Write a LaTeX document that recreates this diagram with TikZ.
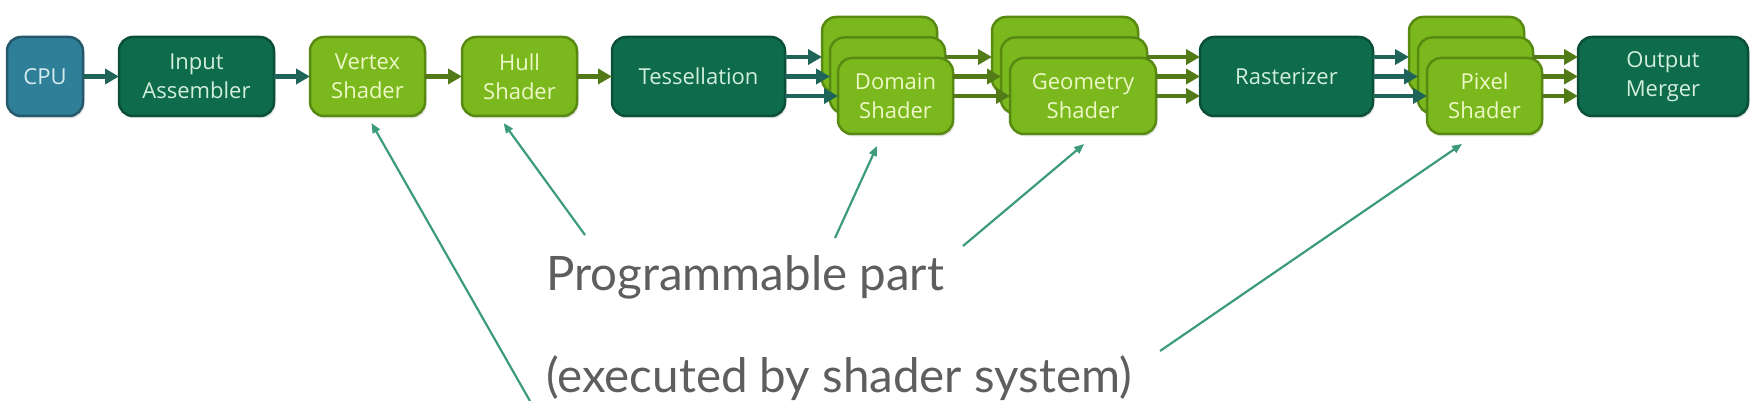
\documentclass[tikz,border=0pt]{standalone}
\usepackage{fontspec}
\newfontfamily\boxfont{Open Sans}
\newfontfamily\annfont{Lato}
\usetikzlibrary{arrows.meta,shadows}
\definecolor{cpuF}{HTML}{2F7F98}
\definecolor{cpuD}{HTML}{23596B}
\definecolor{cpuT}{HTML}{D7ECF1}
\definecolor{dkF}{HTML}{0E6B4B}
\definecolor{dkD}{HTML}{0A4F37}
\definecolor{dkT}{HTML}{D2EEDD}
\definecolor{ltF}{HTML}{7AB81E}
\definecolor{ltD}{HTML}{588A12}
\definecolor{ltT}{HTML}{EDF8C6}
\definecolor{arT}{HTML}{1E6458}
\definecolor{arO}{HTML}{527A16}
\definecolor{annC}{HTML}{3C9B78}
\definecolor{txtG}{HTML}{5E5E5E}
\begin{document}
\begin{tikzpicture}[x=1pt,y=-1pt,
  box/.style={rounded corners=14pt, line width=2.5pt, minimum height=79pt,
    inner sep=0pt, outer sep=0pt, align=center,
    font=\boxfont\fontsize{22}{29}\selectfont,
    drop shadow={shadow xshift=1.5pt,shadow yshift=-2.5pt,opacity=0.22}},
  cpubox/.style={box, fill=cpuF, draw=cpuD, text=cpuT},
  dkbox/.style={box, fill=dkF, draw=dkD, text=dkT},
  ltbox/.style={box, fill=ltF, draw=ltD, text=ltT},
  stbox/.style={ltbox, minimum height=76pt},
  arrT/.style={draw=arT, line width=4.5pt, -{Triangle[length=14pt,width=15pt]}},
  arrO/.style={draw=arO, line width=4.5pt, -{Triangle[length=14pt,width=15pt]}},
  ann/.style={draw=annC, line width=2.2pt, -{Triangle[length=10pt,width=8pt]}},
  anntext/.style={anchor=base west, inner sep=0pt, text=txtG,
    font=\annfont\fontsize{47.5}{50}\selectfont}
]
\useasboundingbox (0,0) rectangle (1757,401);

% main boxes
\node[cpubox, minimum width=76pt] (cpu) at (45,76.5) {CPU};
\node[dkbox, minimum width=155pt] (ia) at (196.5,76.5) {Input\\Assembler};
\node[ltbox, minimum width=115pt] (vs) at (367.5,76.5) {Vertex\\Shader};
\node[ltbox, minimum width=115pt] (hs) at (519.5,76.5) {Hull\\Shader};
\node[dkbox, minimum width=173pt] (tess) at (698.5,76.5) {Tessellation};

% domain stack
\node[stbox, minimum width=115pt] (dom1) at (879.5,55) {};
\node[stbox, minimum width=115pt] (dom2) at (887.5,75.5) {};
\node[stbox, minimum width=115pt] (dom3) at (895.5,96) {Domain\\Shader};

% geometry stack
\node[stbox, minimum width=146pt] (geo1) at (1065,55) {};
\node[stbox, minimum width=146pt] (geo2) at (1074,75.5) {};
\node[stbox, minimum width=146pt] (geo3) at (1083,96) {Geometry\\Shader};

\node[dkbox, minimum width=173pt] (ras) at (1286.5,76.5) {Rasterizer};

% pixel stack
\node[stbox, minimum width=115pt] (pix1) at (1466.5,55) {};
\node[stbox, minimum width=115pt] (pix2) at (1475.5,75.5) {};
\node[stbox, minimum width=115pt] (pix3) at (1484.5,96) {Pixel\\Shader};

\node[dkbox, minimum width=170pt] (om) at (1663,76.5) {Output\\Merger};

% pipeline arrows
\draw[arrT] (cpu) -- (ia);
\draw[arrT] (ia) -- (vs);
\draw[arrO] (vs) -- (hs);
\draw[arrO] (hs) -- (tess);

\draw[arrT] ([yshift=19.5pt]tess.east) -- ([yshift=-2pt]dom1.west);
\draw[arrT] (tess.east) -- ([yshift=-1pt]dom2.west);
\draw[arrT] ([yshift=-19.5pt]tess.east) -- (dom3.west);

\draw[arrO] ([yshift=18.5pt]dom2.east) -- ([yshift=-2pt]geo1.west);
\draw[arrO] ([yshift=19.5pt]dom3.east) -- ([yshift=-1pt]geo2.west);
\draw[arrO] (dom3.east) -- (geo3.west);

\draw[arrO] ([yshift=18.5pt]geo2.east) -- ([yshift=19.5pt]ras.west);
\draw[arrO] ([yshift=19.5pt]geo3.east) -- (ras.west);
\draw[arrO] (geo3.east) -- ([yshift=-19.5pt]ras.west);

\draw[arrT] ([yshift=19.5pt]ras.east) -- ([yshift=-2pt]pix1.west);
\draw[arrT] (ras.east) -- ([yshift=-1pt]pix2.west);
\draw[arrT] ([yshift=-19.5pt]ras.east) -- (pix3.west);

\draw[arrO] ([yshift=18.5pt]pix2.east) -- ([yshift=19.5pt]om.west);
\draw[arrO] ([yshift=19.5pt]pix3.east) -- (om.west);
\draw[arrO] (pix3.east) -- ([yshift=-19.5pt]om.west);

% annotation
\node[anntext] (prog) at (546,290) {Programmable part};
\node[anntext] (exec) at (546,392) {(executed by shader system)};

\coordinate (a1) at (530,401);
\coordinate (a2) at (585,235);
\coordinate (a3) at (835,238);
\coordinate (a4) at (963,246);
\coordinate (a5) at (1160,351);
\draw[ann, shorten >=8pt] (a1) -- (vs.south);
\draw[ann, shorten >=8.7pt] (a2) -- ([xshift=-21pt]hs.south);
\draw[ann, shorten >=13pt] (a3) -- ([xshift=-13pt]dom3.south);
\draw[ann, shorten >=15.5pt] (a4) -- ([xshift=13pt]geo3.south);
\draw[ann, shorten >=17.5pt] (a5) -- ([xshift=-8pt]pix3.south);
\end{tikzpicture}
\end{document}
